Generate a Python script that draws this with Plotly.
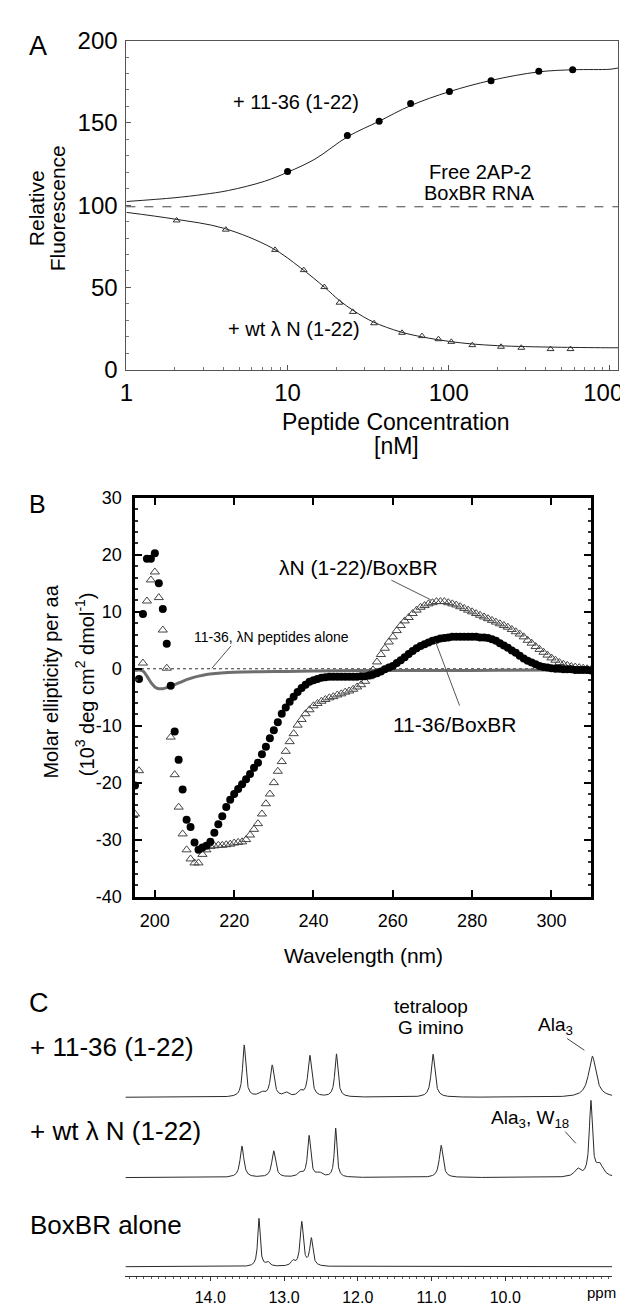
import numpy as np
import plotly.graph_objects as go

W, H = 628, 1305
FONT = "Liberation Sans, Arial, Helvetica, sans-serif"

# ---------------- Panel A data (fluorescence titration) ----------------
conc_1136 = [10, 23.5, 37, 58, 101, 183, 362, 587]
fluor_1136 = [120.4, 142.3, 151, 161.7, 169, 175.6, 181.4, 182.3]
fit_conc_1136 = [1, 2, 3, 4.3, 7.2, 10, 14.8, 23.5, 37, 58, 101, 183, 362, 600, 1000, 1130]
fit_fluor_1136 = [102.2, 104.5, 106.5, 108.9, 114.5, 120, 128, 141.5, 151, 160.5, 169, 175.8, 181, 182.3, 182.6, 183.4]

conc_wt = [2.05, 4.14, 8.36, 12.6, 16.9, 21, 25.4, 34.4, 51.3, 68.2, 86.3, 103.7, 140, 211, 282, 428, 569]
fluor_wt = [90.7, 85.1, 72.8, 60.5, 50.2, 40.7, 35.1, 28.2, 22.4, 20.4, 18.5, 16.9, 14.9, 13.9, 13.3, 12.5, 12.5]
fit_conc_wt = [1, 2, 4, 8, 12, 17, 21, 26, 34, 50, 70, 100, 140, 200, 300, 500, 1000, 1130]
fit_fluor_wt = [95.6, 91.5, 86, 74, 62, 50, 42, 35.5, 29, 23, 19.7, 17.2, 15.6, 14.6, 14, 13.6, 13.3, 13.3]

free_rna_level = 99

a_xticks = [1, 10, 100, 1000]
a_xticklabels = ["1", "10", "100", "1000"]
a_yticks = [0, 50, 100, 150, 200]

# ---------------- Panel B data (CD spectra) ----------------
wl = list(range(195, 311))
cd_1136 = [
    -20.5, -1.8, 9.6, 19.3, 19.3, 20.3, 15.0, 10.5, 4.4, -3.0,            # 195-204
    -11.0, -16.0, -21.2, -26.5, -27.8, -30.5, -31.8, -31.4, -31.1, -30.4,  # 205-214
    -28.8, -27.3, -25.9, -24.3, -23.0, -22.0, -21.1, -20.3, -19.4, -18.5,  # 215-224
    -17.4, -16.5, -15.0, -13.7, -12.2, -10.8, -9.4, -7.9, -6.8, -5.8,      # 225-234
    -4.9, -4.1, -3.4, -2.8, -2.3, -2.0, -1.8, -1.6, -1.5, -1.4,            # 235-244
    -1.4, -1.4, -1.4, -1.4, -1.4, -1.4, -1.4, -1.3, -1.3, -1.2,            # 245-254
    -1.0, -0.8, -0.5, -0.1, 0.2, 0.5, 1.0, 1.5, 2.0, 2.6,                  # 255-264
    3.1, 3.6, 4.0, 4.3, 4.6, 4.9, 5.1, 5.3, 5.4, 5.5,                      # 265-274
    5.6, 5.6, 5.6, 5.6, 5.6, 5.6, 5.6, 5.5, 5.5, 5.4,                      # 275-284
    5.2, 4.9, 4.5, 4.1, 3.7, 3.2, 2.8, 2.3, 1.8, 1.4,                      # 285-294
    1.1, 0.8, 0.5, 0.3, 0.2, 0.1, 0.0, 0.0, -0.1, -0.1,                    # 295-304
    -0.1, -0.2, -0.2, -0.2, -0.2, -0.3,                                    # 305-310
]
cd_lambdaN = [
    -25.5, -17.9, 1.0, 11.9, 15.6, 17.0, 12.5, 6.8, 0.1, -12.0,            # 195-204
    -18.6, -24.3, -29.0, -31.8, -33.4, -34.1, -34.1, -32.6, -31.8, -31.2,  # 205-214
    -31.1, -31.0, -31.0, -30.9, -30.8, -30.6, -30.5, -30.4, -30.0, -29.2,  # 215-224
    -28.2, -27.2, -25.5, -23.7, -22.0, -20.0, -18.0, -16.3, -14.5, -12.8,  # 225-234
    -11.4, -9.9, -8.9, -7.9, -7.2, -6.5, -6.1, -5.7, -5.4, -5.1,           # 235-244
    -4.9, -4.6, -4.4, -4.1, -3.9, -3.6, -3.2, -2.8, -2.2, -1.4,            # 245-254
    -0.2, 1.2, 2.5, 3.6, 4.7, 5.6, 6.7, 7.6, 8.4, 9.0,                     # 255-264
    9.7, 10.3, 10.8, 11.1, 11.4, 11.6, 11.8, 11.8, 11.8, 11.6,             # 265-274
    11.4, 11.2, 10.9, 10.6, 10.3, 10.0, 9.7, 9.4, 9.1, 8.8,                # 275-284
    8.5, 8.2, 7.9, 7.6, 7.3, 6.9, 6.5, 6.1, 5.6, 5.0,                      # 285-294
    4.5, 3.9, 3.4, 2.9, 2.4, 1.9, 1.5, 1.1, 0.8, 0.6,                      # 295-304
    0.4, 0.3, 0.2, 0.1, 0.0, -0.1,                                         # 305-310
]
wl_alone = [195, 196, 197, 198, 199, 200, 201, 202, 203, 204, 205, 207, 209, 211, 213, 216, 220, 230, 240, 260, 280, 300, 310]
cd_alone = [-0.3, -0.2, -0.4, -1.3, -2.4, -3.2, -3.5, -3.5, -3.3, -3.0, -2.8, -2.2, -1.7, -1.3, -1.0, -0.8, -0.6, -0.5, -0.4, -0.3, -0.3, -0.2, -0.2]

b_xticks = [200, 220, 240, 260, 280, 300]
b_yticks = [-40, -30, -20, -10, 0, 10, 20, 30]
b_yticklabels = ["-40", "-30", "-20", "-10", "0", "10", "20", "30"]

# ---------------- Panel C data (1D NMR imino spectra, peak lists) ----------------
peaks_1136_ppm = [13.54, 13.30, 13.16, 12.97, 12.78, 12.65, 12.29, 10.98, 8.82]
peaks_1136_hgt = [53, 4, 32, 4, 5, 42, 44, 44, 42]
peaks_1136_wid = [0.025, 0.05, 0.03, 0.04, 0.04, 0.03, 0.025, 0.03, 0.06]

peaks_wt_ppm = [13.57, 13.14, 12.78, 12.66, 12.52, 12.30, 10.87, 9.02, 8.84, 8.72]
peaks_wt_hgt = [32, 27, 4, 42, 4, 50, 33, 8, 76, 12]
peaks_wt_wid = [0.03, 0.03, 0.04, 0.025, 0.05, 0.02, 0.03, 0.05, 0.025, 0.06]

peaks_free_ppm = [13.34, 13.22, 12.88, 12.76, 12.63]
peaks_free_hgt = [49, 4, 5, 45, 28]
peaks_free_wid = [0.02, 0.03, 0.03, 0.025, 0.025]

c_xticks = [14, 13, 12, 11, 10]
c_xticklabels = ["14.0", "13.0", "12.0", "11.0", "10.0"]
ppm_range = [15.15, 8.55]

# stacking offsets (layout, in y-axis units of panel C)
off_top, off_mid, off_bot = 183, 101, 10


def px(x):
    return x / W


def py(y):
    return 1 - y / H


def lorentz_sum(grid, pos, hgt, wid):
    out = np.zeros_like(grid)
    for p, h, w in zip(pos, hgt, wid):
        out += h * w ** 2 / ((grid - p) ** 2 + w ** 2)
    return out


fig = go.Figure()

# ---- Panel A traces
fig.add_trace(go.Scatter(x=fit_conc_1136, y=fit_fluor_1136, mode="lines", line=dict(color="#222", width=1, shape="spline"),
                         xaxis="x", yaxis="y", hoverinfo="skip"))
fig.add_trace(go.Scatter(x=fit_conc_wt, y=fit_fluor_wt, mode="lines", line=dict(color="#222", width=1, shape="spline"),
                         xaxis="x", yaxis="y", hoverinfo="skip"))
fig.add_trace(go.Scatter(x=conc_1136, y=fluor_1136, mode="markers", marker=dict(symbol="circle", size=7, color="black"),
                         xaxis="x", yaxis="y"))
fig.add_trace(go.Scatter(x=conc_wt, y=fluor_wt, mode="markers",
                         marker=dict(symbol="triangle-up-open", size=6, color="#333", line=dict(width=1)),
                         xaxis="x", yaxis="y"))

# ---- Panel B traces
fig.add_trace(go.Scatter(x=wl_alone, y=cd_alone, mode="lines", line=dict(color="#6e6e6e", width=3, shape="spline"),
                         xaxis="x2", yaxis="y2", hoverinfo="skip"))
fig.add_trace(go.Scatter(x=wl, y=cd_lambdaN, mode="markers",
                         marker=dict(symbol="triangle-up-open", size=8, color="#444", line=dict(width=1)),
                         xaxis="x2", yaxis="y2"))
fig.add_trace(go.Scatter(x=wl, y=cd_1136, mode="markers", marker=dict(symbol="circle", size=8, color="black"),
                         xaxis="x2", yaxis="y2"))

# ---- Panel C traces
grid = np.linspace(ppm_range[0], ppm_range[1], 2400)
for pos, hgt, wid, off in [
    (peaks_1136_ppm, peaks_1136_hgt, peaks_1136_wid, off_top),
    (peaks_wt_ppm, peaks_wt_hgt, peaks_wt_wid, off_mid),
    (peaks_free_ppm, peaks_free_hgt, peaks_free_wid, off_bot),
]:
    fig.add_trace(go.Scatter(x=grid, y=lorentz_sum(grid, pos, hgt, wid) + off, mode="lines",
                             line=dict(color="#2a2a2a", width=1), xaxis="x3", yaxis="y3", hoverinfo="skip"))

shapes = [
    dict(type="line", xref="x domain", x0=0, x1=1, yref="y", y0=free_rna_level, y1=free_rna_level,
         line=dict(color="#444", width=1, dash="dash")),
    dict(type="line", xref="x2 domain", x0=0, x1=1, yref="y2", y0=0, y1=0,
         line=dict(color="#333", width=1, dash="dot"), layer="below"),
    # leader lines (panel B)
    dict(type="line", xref="paper", yref="paper", x0=px(392), y0=py(570), x1=px(433), y1=py(590),
         line=dict(color="#555", width=1)),
    dict(type="line", xref="paper", yref="paper", x0=px(463), y0=py(698), x1=px(438), y1=py(633),
         line=dict(color="#555", width=1)),
    dict(type="line", xref="paper", yref="paper", x0=px(225), y0=py(637), x1=px(205), y1=py(660),
         line=dict(color="#555", width=1)),
    # leader lines (panel C)
    dict(type="line", xref="paper", yref="paper", x0=px(575), y0=py(1038), x1=px(593), y1=py(1050),
         line=dict(color="#444", width=1)),
    dict(type="line", xref="paper", yref="paper", x0=px(573), y0=py(1133), x1=px(584), y1=py(1145),
         line=dict(color="#444", width=1)),
]


def ann(text, x, y, size, xanchor="center", angle=0):
    return dict(text=text, x=px(x), y=py(y), xref="paper", yref="paper", showarrow=False,
                xanchor=xanchor, yanchor="middle", textangle=angle,
                font=dict(family=FONT, size=size, color="black"))


annotations = [
    ann("A", 24, 25, 27),
    ann("Relative", 22, 190, 21, angle=-90),
    ann("Fluorescence", 44, 190, 21, angle=-90),
    ann("+ 11-36 (1-22)", 293, 82, 20),
    ann("Free 2AP-2", 484, 153, 20),
    ann("BoxBR RNA", 484, 175, 20),
    ann("+ wt λ N (1-22)", 291, 313, 20),
    ann("Peptide Concentration", 397, 408, 23),
    ann("[nM]", 397, 433, 23),
    ann("B", 23, 492, 25),
    ann("Molar ellipticity per aa", 38, 673, 20, angle=-90),
    ann("(10<sup>3</sup> deg cm<sup>2</sup> dmol<sup>-1</sup>)", 72, 676, 20, angle=-90),
    ann("λN (1-22)/BoxBR", 358, 557, 21),
    ann("11-36/BoxBR", 458, 717, 21),
    ann("11-36, λN peptides alone", 267, 628, 14),
    ann("Wavelength (nm)", 363, 953, 21),
    ann("C", 25, 1002, 27),
    ann("tetraloop", 433, 1005, 19),
    ann("G imino", 433, 1027, 19),
    ann("Ala<sub>3</sub>", 563, 1025, 19),
    ann("Ala<sub>3</sub>, W<sub>18</sub>", 536, 1120, 19),
    ann("+ 11-36 (1-22)", 14, 1047, 26, xanchor="left"),
    ann("+ wt λ N (1-22)", 14, 1132, 26, xanchor="left"),
    ann("BoxBR alone", 14, 1228, 26, xanchor="left"),
    ann("ppm", 611, 1297, 15),
]

a_minor = [m * 10 ** d for d in range(4) for m in range(2, 10)]

fig.update_layout(
    width=W, height=H, autosize=False,
    margin=dict(l=0, r=0, t=0, b=0),
    paper_bgcolor="white", plot_bgcolor="white",
    showlegend=False,
    font=dict(family=FONT, color="black"),
    shapes=shapes,
    annotations=annotations,
    xaxis=dict(domain=[px(116), 1.0], anchor="y", type="log", range=[0, 3.05],
               tickvals=a_xticks, ticktext=a_xticklabels, ticks="inside", ticklen=5, tickcolor="#555",
               tickfont=dict(size=24), ticklabelstandoff=2, ticklabeloverflow="allow",
               showline=True, linecolor="#555", linewidth=1, mirror=True, showgrid=False, zeroline=False,
               minor=dict(tickvals=a_minor, ticks="inside", ticklen=3, tickcolor="#777")),
    yaxis=dict(domain=[py(355), py(19)], anchor="x", range=[0, 200],
               tickvals=a_yticks, ticks="inside", ticklen=5, tickcolor="#555",
               tickfont=dict(size=24), ticklabelstandoff=3,
               showline=True, linecolor="#555", linewidth=1, mirror=True, showgrid=False, zeroline=False,
               minor=dict(dtick=10, ticks="inside", ticklen=3, tickcolor="#777")),
    xaxis2=dict(domain=[px(125), px(600)], anchor="y2", range=[195, 310],
                tickvals=b_xticks, ticks="inside", ticklen=7, tickwidth=1.5, tickcolor="black",
                tickfont=dict(size=18), ticklabelstandoff=6,
                showline=True, linecolor="black", linewidth=2.5, mirror="allticks", showgrid=False, zeroline=False),
    yaxis2=dict(domain=[py(893), py(486)], anchor="x2", range=[-40, 30],
                tickvals=b_yticks, ticktext=b_yticklabels, ticks="inside", ticklen=7, tickwidth=1.5,
                tickcolor="black", tickfont=dict(size=18), ticklabelstandoff=7,
                showline=True, linecolor="black", linewidth=2.5, mirror="allticks", showgrid=False, zeroline=False,
                minor=dict(dtick=2, ticks="inside", ticklen=3, tickcolor="#333")),
    xaxis3=dict(domain=[px(115), px(622)], anchor="y3", range=ppm_range,
                tickvals=c_xticks, ticktext=c_xticklabels, ticks="outside", ticklen=4, tickcolor="#333",
                tickfont=dict(size=16), ticklabelstandoff=2,
                showline=True, linecolor="#333", linewidth=1, showgrid=False, zeroline=False,
                minor=dict(dtick=0.1, ticks="outside", ticklen=2, tickcolor="#555")),
    yaxis3=dict(domain=[py(1281), py(1035)], anchor="x3", range=[0, 246], visible=False),
)

fig.write_html("out.html")
